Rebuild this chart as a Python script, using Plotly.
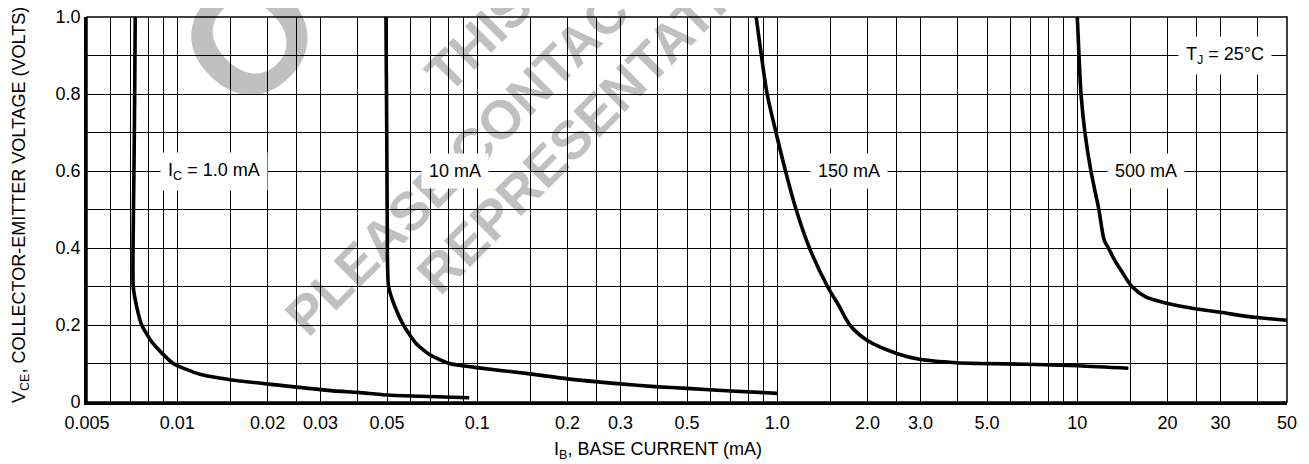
import numpy as np
import plotly.graph_objects as go

# ---------------- data ----------------
ic1_x = [0.00724, 0.00721, 0.00717, 0.00713, 0.00713, 0.00732, 0.00761, 0.0083, 0.0097, 0.0119,
         0.015, 0.0198, 0.033, 0.04, 0.05, 0.0645, 0.094]
ic1_y = [1.0, 0.8, 0.6, 0.447, 0.3, 0.248, 0.2, 0.152, 0.1, 0.072,
         0.058, 0.047, 0.029, 0.025, 0.018, 0.015, 0.011]

ic10_x = [0.0496, 0.0499, 0.0501, 0.0502, 0.0506, 0.0531, 0.0567, 0.0625, 0.0697, 0.0808, 0.098,
          0.15, 0.2, 0.3, 0.39, 0.5, 0.7, 1.0]
ic10_y = [1.0, 0.7, 0.447, 0.36, 0.3, 0.248, 0.2, 0.152, 0.122, 0.1, 0.09,
          0.073, 0.06, 0.047, 0.04, 0.0355, 0.0286, 0.0225]

ic150_x = [0.85, 0.885, 0.925, 0.99, 1.065, 1.155, 1.28, 1.47, 1.61, 1.745, 1.985, 2.5, 2.98,
           3.95, 4.7, 6.8, 10.0, 14.8]
ic150_y = [1.0, 0.9, 0.8, 0.7, 0.6, 0.5, 0.4, 0.3, 0.248, 0.2, 0.161, 0.126, 0.111,
           0.102, 0.1, 0.098, 0.094, 0.0875]

ic500_x = [10.0, 10.13, 10.29, 10.6, 11.1, 11.8, 12.3, 12.7, 13.3, 14.2, 15.2, 16.9, 20.0, 24.4, 29.9, 39.0, 50.0]
ic500_y = [1.0, 0.9, 0.8, 0.7, 0.6, 0.5, 0.42, 0.4, 0.369, 0.334, 0.3, 0.273, 0.256, 0.243, 0.233, 0.220, 0.2125]

x_grid = [0.005, 0.006, 0.007, 0.008, 0.009, 0.01, 0.015, 0.02, 0.025, 0.03, 0.04,
          0.05, 0.06, 0.07, 0.08, 0.09, 0.1, 0.15, 0.2, 0.25, 0.3, 0.4,
          0.5, 0.6, 0.7, 0.8, 0.9, 1.0, 1.5, 2.0, 2.5, 3.0, 4.0,
          5.0, 6.0, 7.0, 8.0, 9.0, 10.0, 15.0, 20.0, 25.0, 30.0, 40.0, 50.0]
x_label_vals = [0.005, 0.01, 0.02, 0.03, 0.05, 0.1, 0.2, 0.3, 0.5, 1.0, 2.0, 3.0, 5.0, 10.0, 20.0, 30.0, 50.0]
x_label_txt = ["0.005", "0.01", "0.02", "0.03", "0.05", "0.1", "0.2", "0.3", "0.5", "1.0", "2.0", "3.0", "5.0",
               "10", "20", "30", "50"]

y_grid = [0.0, 0.1, 0.2, 0.3, 0.4, 0.5, 0.6, 0.7, 0.8, 0.9, 1.0]
y_label_vals = [0.0, 0.2, 0.4, 0.6, 0.8, 1.0]
y_label_txt = ["0", "0.2", "0.4", "0.6", "0.8", "1.0"]

curve_labels = ["I<sub>C</sub> = 1.0 mA", "10 mA", "150 mA", "500 mA", "T<sub>J</sub> = 25°C"]
curve_label_x = [0.01325, 0.0844, 1.74, 16.9, 31.0]
curve_label_y = [0.6, 0.6, 0.6, 0.6, 0.9]

x_title = "I<sub>B</sub>, BASE CURRENT (mA)"
y_title = "V<sub>CE</sub>, COLLECTOR-EMITTER VOLTAGE (VOLTS)"

# ---------------- figure ----------------
FONT = "Liberation Sans Narrow, Arial Narrow, Liberation Sans, Arial, sans-serif"
FS = 18
OFF = 8                      # page body margin
FW, FH = 1309 - OFF, 464 - OFF
PL, PT, PR, PB = 87, 17, 1287, 402       # plot area in page pixels
L, T = PL - OFF, PT - OFF
PW, PH = PR - PL, PB - PT
R, B = FW - L - PW, FH - T - PH

lbl_map = dict(zip(x_label_vals, x_label_txt))
x_ticktext = [lbl_map.get(v, "") for v in x_grid]
ylbl_map = dict(zip(y_label_vals, y_label_txt))
y_ticktext = [ylbl_map.get(v, "") for v in y_grid]


def px2paper(px, py):
    return (px - PL) / PW, (PB - py) / PH


fig = go.Figure()
for xs, ys, sm in [(ic1_x, ic1_y, 0.6), (ic10_x, ic10_y, 0.6), (ic150_x, ic150_y, 0.9), (ic500_x, ic500_y, 0.9)]:
    fig.add_trace(go.Scatter(x=xs, y=ys, mode="lines",
                             line=dict(color="black", width=3.6, shape="spline", smoothing=sm),
                             showlegend=False, hoverinfo="skip", cliponaxis=True))

annotations = []
for txt, xv, yv in zip(curve_labels, curve_label_x, curve_label_y):
    annotations.append(dict(x=np.log10(xv), y=yv, xref="x", yref="y", text=txt, showarrow=False,
                            bgcolor="white", borderpad=7, font=dict(family=FONT, size=FS, color="black")))

ax, ay = px2paper(658, 450)
annotations.append(dict(x=ax, y=ay, xref="paper", yref="paper", text=x_title,
                        showarrow=False, font=dict(family=FONT, size=FS, color="black"),
                        xanchor="center", yanchor="middle"))
ax, ay = px2paper(20, 205)
annotations.append(dict(x=ax, y=ay, xref="paper", yref="paper", text=y_title,
                        showarrow=False, textangle=-90, font=dict(family=FONT, size=FS, color="black"),
                        xanchor="center", yanchor="middle"))

shapes = []
# watermark (drawn below grid)
wm_color = "#c0c0c0"
wm = [("THIS", 475, 35, 54), ("PLEASE CONTACT", 465, 148, 54), ("REPRESENTATIVE", 593, 110, 54),
      ("O", 239, 26, 160)]
for txt, cx, cy, fs in wm:
    x0, y0 = px2paper(cx - 5, cy + 5)
    x1, y1 = px2paper(cx + 5, cy - 5)
    shapes.append(dict(type="rect", xref="paper", yref="paper", x0=x0, y0=y0, x1=x1, y1=y1,
                       layer="below", line=dict(width=0), fillcolor="rgba(0,0,0,0)",
                       label=dict(text=txt, textangle=-45, textposition="middle center",
                                  font=dict(family="Liberation Sans, Arial, sans-serif", size=fs,
                                            color=wm_color, weight="bold"))))
# top / right border
shapes.append(dict(type="rect", xref="paper", yref="paper", x0=0, y0=0, x1=1, y1=1,
                   line=dict(color="black", width=1.5), layer="above"))

fig.update_layout(
    width=FW, height=FH,
    margin=dict(l=L, r=R, t=T, b=B, pad=0, autoexpand=False),
    paper_bgcolor="white", plot_bgcolor="rgba(0,0,0,0)",
    font=dict(family=FONT, size=FS, color="black"),
    annotations=annotations, shapes=shapes,
    showlegend=False,
)
fig.update_xaxes(type="log", range=[np.log10(0.005), np.log10(50)], tickmode="array",
                 tickvals=x_grid, ticktext=x_ticktext, showgrid=True, gridcolor="#000000", gridwidth=1.3,
                 showline=True, linecolor="black", linewidth=2.8, ticks="", ticklen=0, ticklabelstandoff=2,
                 ticklabeloverflow="allow", zeroline=False, automargin=False,
                 tickfont=dict(family=FONT, size=FS, color="black"))
fig.update_yaxes(range=[0, 1.0], tickmode="array", tickvals=y_grid, ticktext=y_ticktext,
                 showgrid=True, gridcolor="#000000", gridwidth=1.3, showline=True, linecolor="black",
                 linewidth=2.8, ticks="", ticklen=0, ticklabelstandoff=0, ticklabeloverflow="allow",
                 zeroline=False, automargin=False,
                 tickfont=dict(family=FONT, size=FS, color="black"))

fig.write_html("out.html")
